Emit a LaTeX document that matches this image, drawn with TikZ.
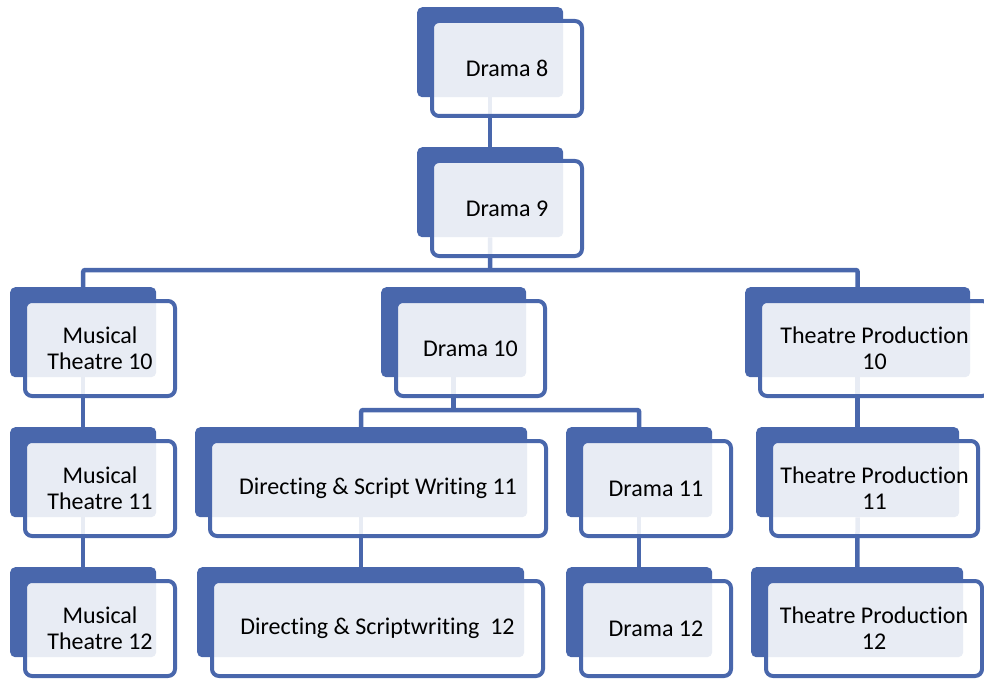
\documentclass[tikz,border=0pt]{standalone}
\usepackage{fontspec}
\setmainfont{Carlito}[Ligatures=NoCommon]
\usetikzlibrary{backgrounds}
\definecolor{boxblue}{RGB}{73,103,172}
\tikzset{
  backcard/.style={fill=boxblue, draw=none, rounded corners=5pt, inner sep=0pt,
    minimum height=90pt, anchor=north west},
  frontcard/.style={draw=boxblue, line width=4pt, fill=white, fill opacity=0.88,
    text opacity=1, rounded corners=7pt, inner sep=0pt, minimum height=95pt,
    align=center, font=\fontsize{24}{26}\selectfont},
  link/.style={draw=boxblue, line width=4.5pt, rounded corners=2pt}
}
% #1 name, #2 left, #3 top, #4 width of the filled card, #5 label
\newcommand\orgbox[5]{%
  \node[backcard, minimum width=#4pt] (#1) at (#2,#3) {};
  \node[frontcard, minimum width={#4+4}] (#1-t) at ({#2+#4/2+17},{#3+61.5}) {#5};
}
\begin{document}
\begin{tikzpicture}[x=1pt,y=-1pt]
\useasboundingbox (0,0) rectangle (984,679);

\orgbox{d8}{417}{7}{146}{Drama 8}
\orgbox{d9}{417}{147}{146}{Drama 9}

\orgbox{mt10}{10}{287}{146}{Musical\\Theatre 10}
\orgbox{mt11}{10}{427}{146}{Musical\\Theatre 11}
\orgbox{mt12}{10}{567}{146}{Musical\\Theatre 12}

\orgbox{d10}{381}{287}{145}{Drama 10}
\orgbox{dsw11}{195}{427}{332}{Directing \& Script Writing 11}
\orgbox{dsw12}{197}{567}{327}{Directing \& Scriptwriting\ \ 12}
\orgbox{d11}{566}{427}{146}{Drama 11}
\orgbox{d12}{566}{567}{146}{Drama 12}

\orgbox{tp10}{745}{287}{225}{Theatre Production\\10}
\orgbox{tp11}{756}{427}{203}{Theatre Production\\11}
\orgbox{tp12}{751}{567}{212}{Theatre Production\\12}

\coordinate (bus1) at (490,270);
\coordinate (bus2) at (453.5,410);

\begin{pgfonlayer}{background}
  \draw[link] (d8) -- (d9);
  \draw[link] (d9) -- (bus1);
  \draw[link] (mt10.north) |- (bus1) -| (tp10.north);
  \draw[link] (d10) -- (d10 |- bus2);
  \draw[link] (dsw11.north) |- (bus2) -| (d11.north);
  \draw[link] (mt10) -- (mt11);
  \draw[link] (mt11) -- (mt12);
  \draw[link] (dsw11) -- (dsw11 |- dsw12.north);
  \draw[link] (d11) -- (d12);
  \draw[link] (tp10) -- (tp11);
  \draw[link] (tp11) -- (tp12);
\end{pgfonlayer}
\end{tikzpicture}
\end{document}
